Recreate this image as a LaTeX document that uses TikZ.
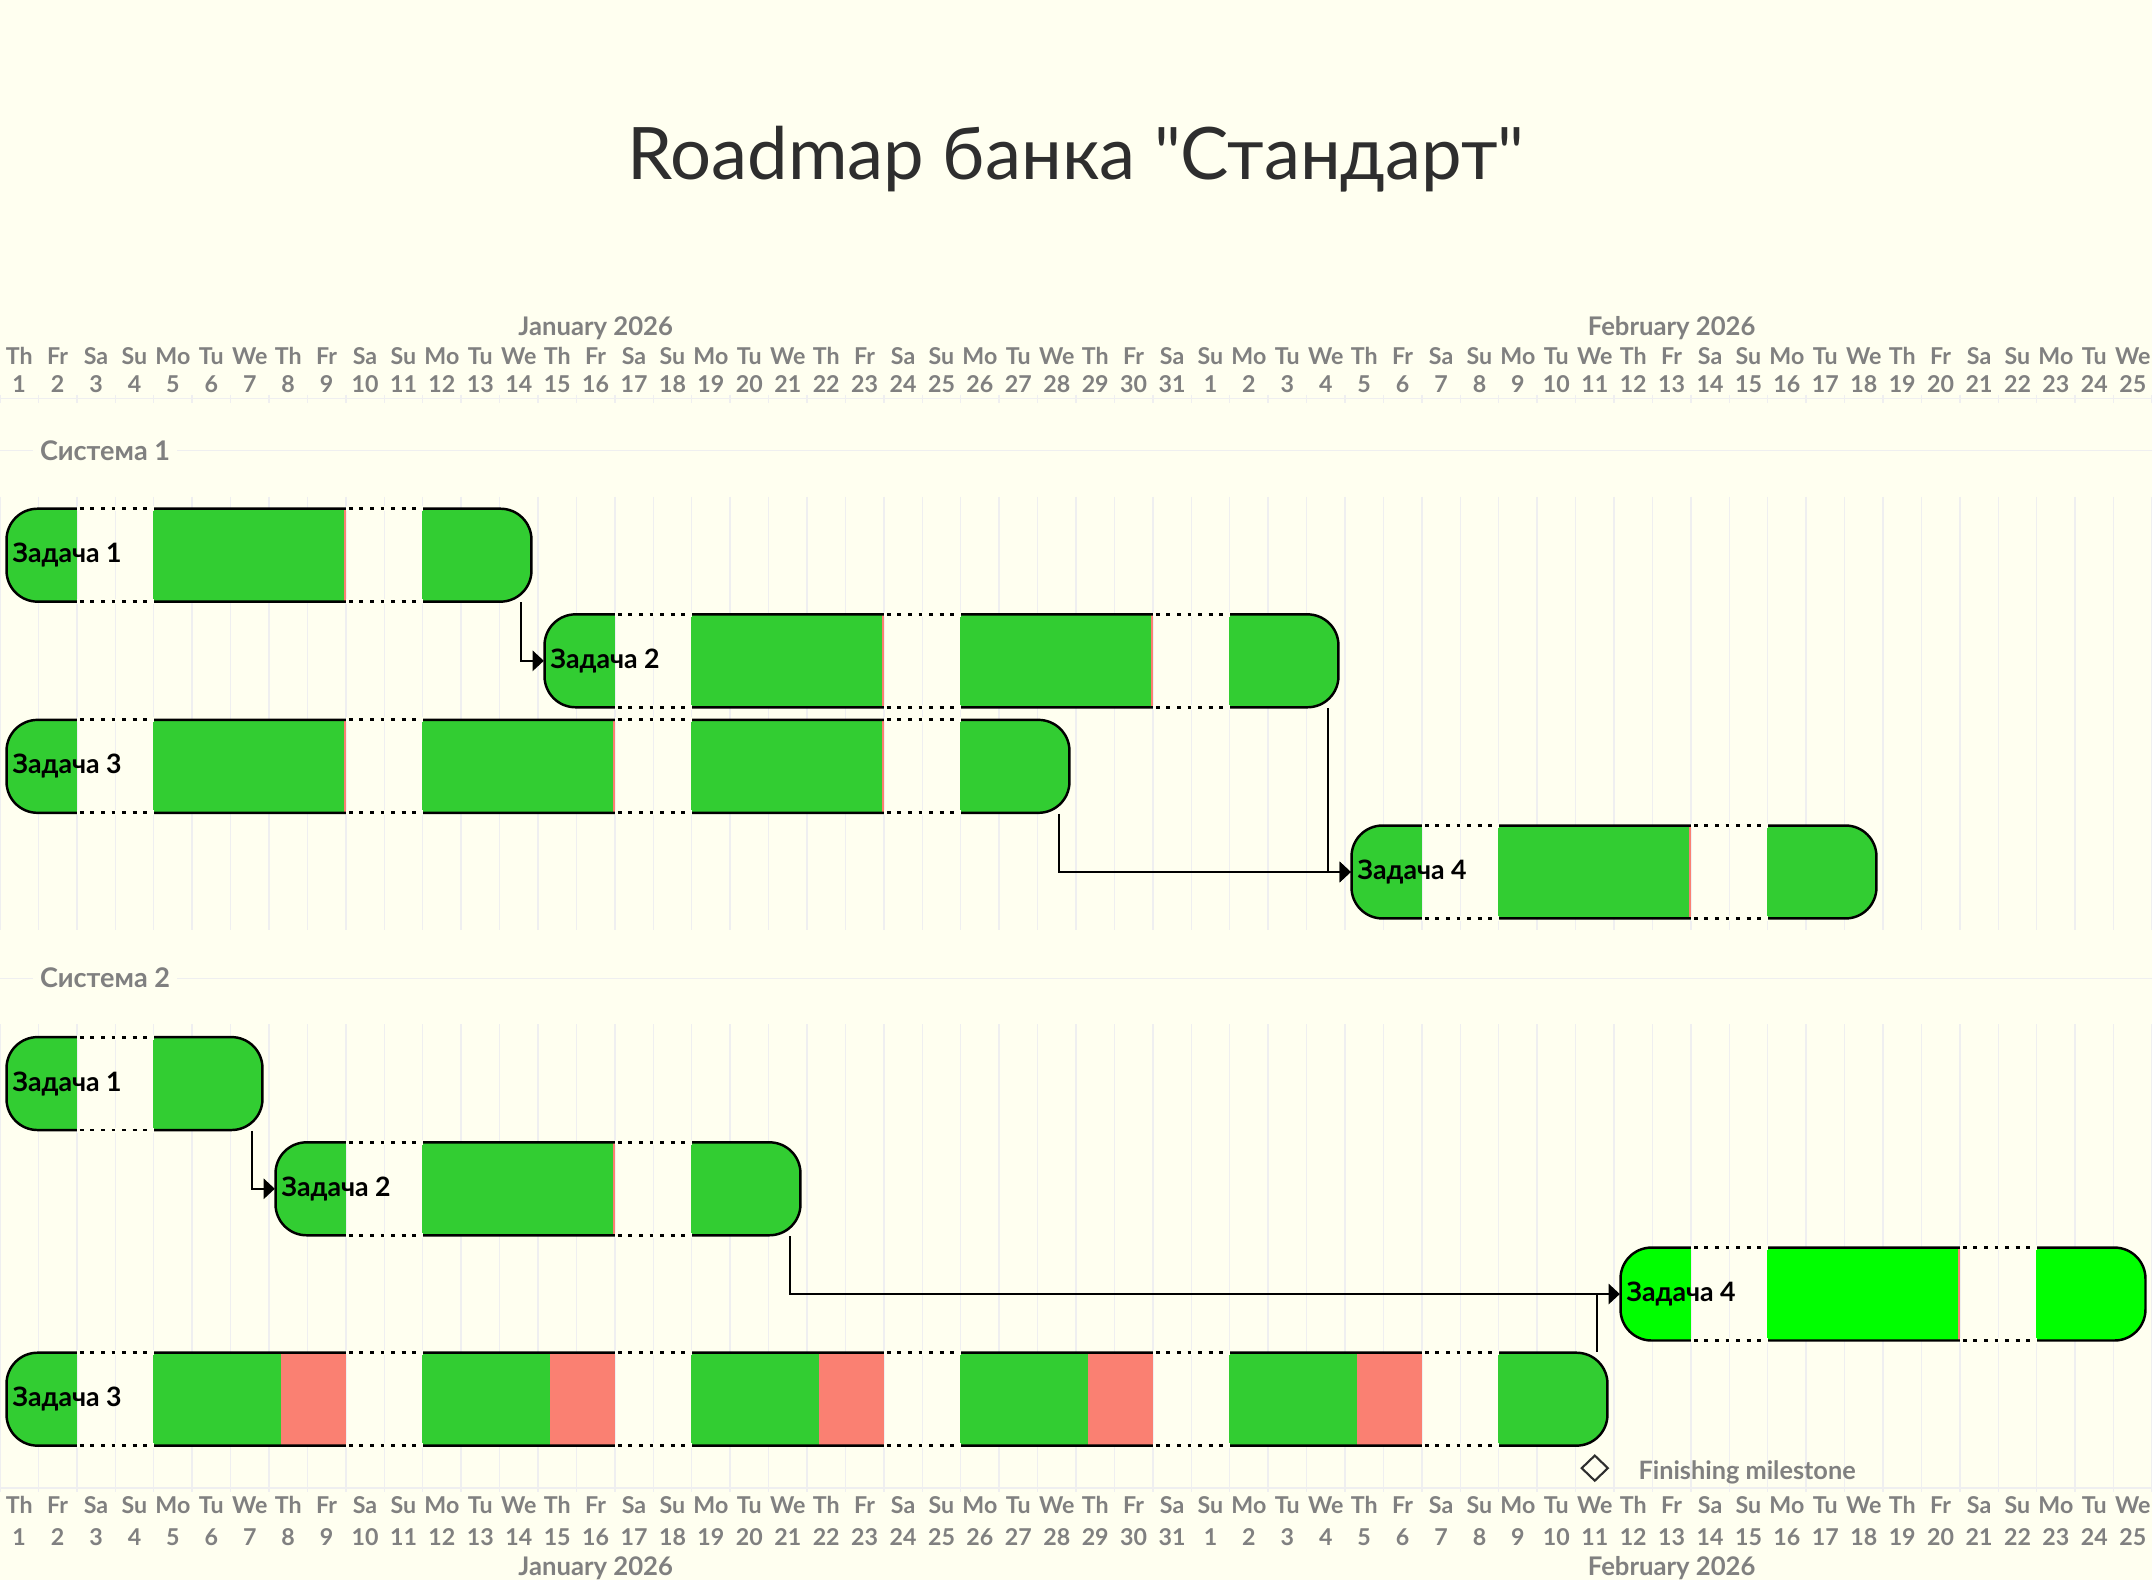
\documentclass[tikz,border=0pt]{standalone}
\usepackage{fontspec}
\setmainfont{Lato}
\newfontfamily\titlefont{Lato}
\usepackage{xcolor}
\usepackage{tikz}
\usetikzlibrary{shapes.geometric,arrows.meta}

\definecolor{paper}{HTML}{FFFFF0}
\definecolor{donegreen}{HTML}{32CD32}
\definecolor{brightgreen}{HTML}{00FF00}
\definecolor{late}{HTML}{FA8072}
\definecolor{gridgray}{HTML}{EFEFF0}
\definecolor{headgray}{HTML}{808080}
\definecolor{titlegray}{HTML}{2E2E2E}

\tikzset{
  daylabel/.style={font=\fontsize{6.6}{7}\selectfont\bfseries, text=headgray, anchor=base, inner sep=0pt},
  monthlabel/.style={font=\fontsize{7.3}{8}\selectfont\bfseries, text=headgray, anchor=base, inner sep=0pt},
  grouplabel/.style={font=\fontsize{7.7}{9}\selectfont\bfseries, text=headgray, anchor=base west, fill=paper, inner xsep=2pt, inner ysep=0pt},
  tasklabel/.style={font=\fontsize{7.6}{9}\selectfont\bfseries, anchor=west, inner sep=0pt},
  barbox/.style={rectangle, minimum height=0.93cm, inner sep=0pt},
  barline/.style={line width=0.7pt},
  link/.style={line width=0.6pt, -{Triangle[length=3.2pt,width=5.8pt]}},
  gridline/.style={gridgray, line width=0.4pt}
}

% task bar: name, y, first day, day after last, colour, late part, label
\newcommand{\taskbar}[7]{%
  \pgfmathsetmacro{\barL}{#3+0.17}
  \pgfmathsetmacro{\barR}{#4-0.17}
  \pgfmathsetmacro{\barC}{(#3+#4)/2}
  \pgfmathsetmacro{\barW}{(\barR-\barL)*0.384286}
  \pgfmathtruncatemacro{\dlast}{#4-1}
  \begin{scope}
    \clip[rounded corners=0.31cm] (\barL,#2-46.5) rectangle (\barR,#2+46.5);
    \foreach \d in {#3,...,\dlast} {
      \pgfmathtruncatemacro{\dow}{mod(\d,7)}
      \ifnum\dow=2 \else\ifnum\dow=3 \else
        \fill[#5] (\d-0.01,#2-47) rectangle (\d+1.01,#2+47);
      \fi\fi
      \ifnum\dow=1
        \pgfmathtruncatemacro{\wkstart}{\d-4}
        \ifnum\wkstart<#3 \else \fill[late] (\d+1-#6,#2-47) rectangle (\d+1,#2+47); \fi
      \fi
    }
  \end{scope}
  \draw[barline, rounded corners=0.31cm] (\barL,#2-46.5) rectangle (\barR,#2+46.5);
  % weekends: dotted edges
  \foreach \d in {#3,...,\dlast} {
    \pgfmathtruncatemacro{\dow}{mod(\d,7)}
    \ifnum\dow=2
      \draw[paper, line width=1.4pt] (\d,#2-46.5) -- (\d+2,#2-46.5) (\d,#2+46.5) -- (\d+2,#2+46.5);
      \draw[line width=0.8pt, dash pattern=on 1.1pt off 1.9pt] (\d+0.08,#2-46.5) -- (\d+2,#2-46.5) (\d+0.08,#2+46.5) -- (\d+2,#2+46.5);
    \fi
  }
  \node[barbox, minimum width=\barW cm] (#1) at (\barC,#2) {};
  \node[tasklabel] (#1-label) at (\barL+0.14,#2) {#7};
}

\begin{document}
\begin{tikzpicture}[x=0.384286cm, y=-0.01cm]
  \fill[paper] (0,0) rectangle (56,1581);
  \useasboundingbox (0,0) rectangle (56,1581);

  % Title
  \node[font=\titlefont\fontsize{20.6}{24}\selectfont, text=titlegray, anchor=base] (title) at (28,180) {Roadmap банка "Стандарт"};

  % Grid
  \draw[gridline] (0,399) -- (56,399);
  \draw[gridline] (0,451) -- (56,451);
  \draw[gridline] (0,979) -- (56,979);
  \draw[gridline] (0,1489) -- (56,1489);
  \foreach \k in {0,...,56} {
    \draw[gridline] (\k,395) -- (\k,403);
    \draw[gridline] (\k,497) -- (\k,931);
    \draw[gridline] (\k,1025) -- (\k,1493);
  }

  % Timeline, top and bottom
  \node[monthlabel] (jantop) at (15.5,336) {January 2026};
  \node[monthlabel] (febtop) at (43.5,336) {February 2026};
  \node[monthlabel] (janbot) at (15.5,1576) {January 2026};
  \node[monthlabel] (febbot) at (43.5,1576) {February 2026};
  \foreach \i in {0,...,55} {
    \pgfmathsetmacro{\dname}{{"Th","Fr","Sa","Su","Mo","Tu","We"}[mod(\i,7)]}
    \pgfmathtruncatemacro{\dnum}{\i<31 ? \i+1 : \i-30}
    \node[daylabel] (topname\i) at (\i+0.5,365) {\dname};
    \node[daylabel] (topnum\i) at (\i+0.5,393) {\dnum};
    \node[daylabel] (botname\i) at (\i+0.5,1514) {\dname};
    \node[daylabel] (botnum\i) at (\i+0.5,1546) {\dnum};
  }

  % Система 1
  \node[grouplabel] (sys1) at (0.84,461) {Система 1};
  \taskbar{s1t1}{555.5}{0}{14}{donegreen}{0.04}{Задача 1}
  \taskbar{s1t2}{661.2}{14}{35}{donegreen}{0.04}{Задача 2}
  \taskbar{s1t3}{766.8}{0}{28}{donegreen}{0.04}{Задача 3}
  \taskbar{s1t4}{872.5}{35}{49}{donegreen}{0.04}{Задача 4}

  % Система 2
  \node[grouplabel] (sys2) at (0.84,988) {Система 2};
  \taskbar{s2t1}{1084.2}{0}{7}{donegreen}{0.04}{Задача 1}
  \taskbar{s2t2}{1189.5}{7}{21}{donegreen}{0.04}{Задача 2}
  \taskbar{s2t4}{1294.8}{42}{56}{brightgreen}{0.04}{Задача 4}
  \taskbar{s2t3}{1400}{0}{42}{donegreen}{1.69}{Задача 3}

  % Milestone
  \node[diamond, draw=titlegray, line width=0.6pt, minimum width=0.27cm, minimum height=0.26cm, inner sep=0pt] (finish) at (41.5,1469) {};
  \node[font=\fontsize{7.2}{8}\selectfont\bfseries, text=headgray, anchor=base west, inner sep=0pt] (finish-label) at (42.62,1480) {Finishing milestone};

  % Connections
  \draw[link] ([xshift=-0.11cm]s1t1.south east) |- (s1t2.west);
  \draw[link] ([xshift=-0.11cm]s1t2.south east) |- (s1t4.west);
  \draw[link] ([xshift=-0.11cm]s1t3.south east) |- (s1t4.west);
  \draw[link] ([xshift=-0.11cm]s2t1.south east) |- (s2t2.west);
  \draw[link] ([xshift=-0.11cm]s2t2.south east) |- (s2t4.west);
  \draw[line width=0.6pt] ([xshift=-0.11cm]s2t3.north east) -- ([xshift=-0.11cm]s2t3.north east |- s2t4.west);
\end{tikzpicture}
\end{document}
